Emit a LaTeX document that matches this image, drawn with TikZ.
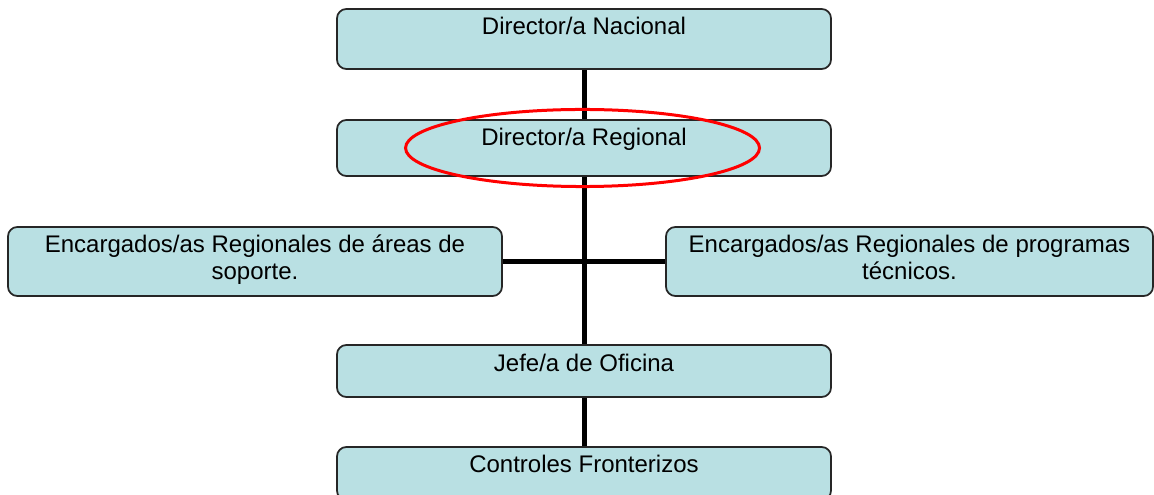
\documentclass[tikz,border=0pt]{standalone}
\usepackage{fontspec}
\setmainfont{Liberation Sans}
\usetikzlibrary{backgrounds}
\definecolor{cargofill}{HTML}{B9E0E3}

\begin{document}
\begin{tikzpicture}[x=0.75pt,y=-0.75pt,
  cargo/.style={draw=black!85,line width=1.3pt,fill=cargofill,rounded corners=7pt,
    inner xsep=0pt,inner ysep=0pt,minimum width=370.5pt,align=center,
    font=\fontsize{18}{20.25}\selectfont,text height=19.5pt},
  doble/.style={text height=39.75pt,text depth=12pt},
  enlace/.style={line width=3.75pt,black}]
  \useasboundingbox (0,0) rectangle (1154,495);

  \node[cargo,text depth=25.5pt] (nac) at (584,39) {Director/a Nacional};
  \node[cargo,text depth=22.5pt] (reg) at (584,148) {Director/a Regional};
  \node[cargo,doble] (sop) at (255,261.5)
    {Encargados/as Regionales de áreas de\\soporte.};
  \node[cargo,doble,minimum width=365.25pt] (tec) at (909.5,261.5)
    {Encargados/as Regionales de programas\\técnicos.};
  \node[cargo,text height=20.25pt,text depth=18.75pt] (jefe) at (584,371) {Jefe/a de Oficina};
  \node[cargo,text depth=20.25pt] (ctrl) at (584,473.5) {Controles Fronterizos};

  \begin{scope}[on background layer]
    \draw[enlace] (nac) -- (jefe);
    \draw[enlace] (jefe) -- (ctrl);
    \draw[enlace] (sop) -- (tec);
  \end{scope}

  % marca sobre el cargo regional
  \draw[red,line width=2.25pt] ([xshift=-1.1pt]reg.center) ellipse [x radius=132.75pt, y radius=28.9pt];
\end{tikzpicture}
\end{document}
